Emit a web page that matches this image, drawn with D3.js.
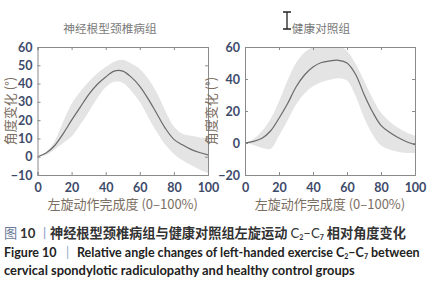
<!DOCTYPE html>
<html>
<head>
<meta charset="utf-8">
<script src="https://cdn.jsdelivr.net/npm/d3@7"></script>
<style>
  body { margin: 0; background: #fff; }
  svg { display: block; }
</style>
</head>
<body>
<div id="chart"></div>
<script>
// progress of the movement, 0-100 %
const progress = [0, 5, 10, 15, 20, 25, 30, 35, 40, 45, 50, 55, 60, 65, 70, 75, 80, 85, 90, 95, 100];

// radiculopathy group (left panel)
const patientMean  = [0, 2, 6, 12.5, 20, 27, 34, 39.5, 43.6, 46.8, 46.8, 43.5, 38.5, 31.5, 23.5, 15.5, 9.5, 6.5, 4, 2.3, 1];
const patientUpper = [0, 2.5, 8.5, 19, 29, 35.5, 41, 45.5, 49, 52, 53, 51, 48, 42.5, 35, 25, 16.5, 12.5, 11.5, 10.7, 10];
const patientLower = [0, 1, 4, 7.5, 11, 17.5, 24.5, 32, 38, 41, 40.5, 36, 30, 21.5, 13.5, 6.5, 1.5, -2, -4.5, -7, -9];

// healthy control group (right panel)
const controlMean  = [0, 1, 3, 7.5, 15.5, 24.5, 35, 42.5, 47.5, 50.3, 51.3, 51.7, 50, 43, 30.5, 19.5, 11, 6.7, 3.4, 0.8, -1];
const controlUpper = [0, 2.5, 7.5, 15, 26, 39, 50, 56.5, 60, 61.5, 61.5, 61, 57.5, 49.5, 39, 28, 19, 13.5, 9.5, 6.5, 4.5];
const controlLower = [0, -1.2, -3, -3.7, 4.5, 14, 24, 31, 35.5, 38.2, 39.5, 40.5, 39, 29.5, 16, 5.5, -1.5, -4, -5.5, -6.3, -6.5];

const xTicks = [0, 20, 40, 60, 80, 100];
const leftYTicks = [-10, 0, 10, 20, 30, 40, 50, 60];
const rightYTicks = [-20, 0, 20, 40, 60];

const width = 436;
const height = 300;

const svg = d3.select('#chart').append('svg')
    .attr('width', width)
    .attr('height', height);

const panels = [
  { id: 'p1', title: '神经根型颈椎病组', mean: patientMean, upper: patientUpper, lower: patientLower,
    yDomain: [-10, 60], yTicks: leftYTicks, left: 37.5, right: 208, labelX: 10, titleX: 110 },
  { id: 'p2', title: '健康对照组', mean: controlMean, upper: controlUpper, lower: controlLower,
    yDomain: [-20, 60], yTicks: rightYTicks, left: 245, right: 415, labelX: 211, titleX: 321 },
];

const plotTop = 47;
const plotBottom = 175;
const tickColor = '#3d4a6a';
const labelColor = '#7b6e62';

panels.forEach(p => {
  const x = d3.scaleLinear([0, 100], [p.left, p.right]);
  const y = d3.scaleLinear(p.yDomain, [plotBottom, plotTop]);

  svg.append('clipPath').attr('id', 'clip-' + p.id)
    .append('rect')
      .attr('x', p.left).attr('y', plotTop)
      .attr('width', p.right - p.left).attr('height', plotBottom - plotTop);

  const g = svg.append('g').attr('clip-path', `url(#clip-${p.id})`);

  const area = d3.area()
      .x((d, i) => x(progress[i]))
      .y0((d, i) => y(p.lower[i]))
      .y1((d, i) => y(p.upper[i]))
      .curve(d3.curveCatmullRom);

  const line = d3.line()
      .x((d, i) => x(progress[i]))
      .y(d => y(d))
      .curve(d3.curveCatmullRom);

  g.append('path')
      .datum(p.mean)
      .attr('d', area)
      .attr('fill', '#e4e4e4');

  g.append('path')
      .datum(p.mean)
      .attr('d', line)
      .attr('fill', 'none')
      .attr('stroke', '#6a6a6a')
      .attr('stroke-width', 1.2);

  // frame with inward ticks on all sides
  const xAxisB = d3.axisBottom(x).tickValues(xTicks).tickSize(-3).tickPadding(8);
  const xAxisT = d3.axisTop(x).tickValues(xTicks).tickSize(-3).tickFormat('');
  const yAxisL = d3.axisLeft(y).tickValues(p.yTicks).tickSize(-3).tickPadding(5);
  const yAxisR = d3.axisRight(y).tickValues(p.yTicks).tickSize(-3).tickFormat('');

  const axes = [
    [xAxisB, `translate(0, ${plotBottom})`],
    [xAxisT, `translate(0, ${plotTop})`],
    [yAxisL, `translate(${p.left}, 0)`],
    [yAxisR, `translate(${p.right}, 0)`],
  ];
  axes.forEach(([ax, tr]) => {
    const a = svg.append('g').attr('transform', tr).call(ax);
    a.select('.domain').attr('stroke', '#8a8a8a').attr('stroke-width', 1);
    a.selectAll('.tick line').attr('stroke', '#8a8a8a');
    a.selectAll('.tick text')
        .attr('fill', tickColor)
        .style('font-family', 'Lato, "Open Sans", sans-serif')
        .style('font-weight', 'bold')
        .style('font-size', '12.5px');
  });

  svg.append('text')
      .attr('x', p.titleX)
      .attr('y', 33)
      .attr('text-anchor', 'middle')
      .attr('fill', '#7a7a7a')
      .style('font-family', '"Noto Sans CJK SC", sans-serif')
      .style('font-size', '11.7px')
      .text(p.title);

  svg.append('text')
      .attr('x', (p.left + p.right) / 2)
      .attr('y', 209)
      .attr('text-anchor', 'middle')
      .attr('fill', labelColor)
      .style('font-family', '"Noto Sans CJK SC", sans-serif')
      .style('font-size', '13px')
      .text('左旋动作完成度 (0–100%)');

  svg.append('text')
      .attr('transform', `translate(${p.labelX + 5}, ${(plotTop + plotBottom) / 2}) rotate(-90)`)
      .attr('text-anchor', 'middle')
      .attr('fill', labelColor)
      .style('font-family', '"Noto Sans CJK SC", sans-serif')
      .style('font-size', '13px')
      .text('角度变化 (°)');
});

// text cursor left over in the screenshot
svg.append('path')
    .attr('d', 'M283,12 H291 M287,12 V29 M283,29 H291')
    .attr('stroke', '#222')
    .attr('stroke-width', 1.3)
    .attr('fill', 'none');

// caption
const cap = svg.append('g').style('font-family', 'Lato, "Noto Sans CJK SC", sans-serif');

const l1 = cap.append('text').attr('x', 4).attr('y', 238)
    .style('font-size', '13.2px').style('font-weight', 'bold').attr('fill', '#333');
l1.append('tspan').attr('fill', '#6b7c99').style('font-weight', 'normal').text('图');
l1.append('tspan').attr('x', 20).text('10');
l1.append('tspan').attr('x', 38).attr('fill', '#8fa5c8').style('font-weight', 'normal').text('丨');
l1.append('tspan').attr('x', 50).style('font-family', '"Noto Sans CJK SC", sans-serif').text('神经根型颈椎病组与健康对照组左旋运动 ');
l1.append('tspan').style('font-weight', 'normal').text('C');
l1.append('tspan').style('font-size', '7px').attr('dy', 2).text('2');
l1.append('tspan').attr('dy', -2).style('font-weight', 'normal').text('–C');
l1.append('tspan').style('font-size', '7px').attr('dy', 2).text('7');
l1.append('tspan').attr('dy', -2).style('font-family', '"Noto Sans CJK SC", sans-serif').text(' 相对角度变化');

const l2 = cap.append('text').attr('x', 4).attr('y', 257)
    .style('font-size', '12.5px').style('font-weight', 'bold').attr('fill', '#222');
l2.append('tspan').text('Figure 10');
l2.append('tspan').attr('x', 66).attr('fill', '#8fa5c8').style('font-weight', 'normal').text('|');
l2.append('tspan').attr('x', 77).text('Relative angle changes of left-handed exercise C');
l2.append('tspan').style('font-size', '7px').attr('dy', 2).text('2');
l2.append('tspan').attr('dy', -2).text('–C');
l2.append('tspan').style('font-size', '7px').attr('dy', 2).text('7');
l2.append('tspan').attr('dy', -2).text(' between');

cap.append('text').attr('x', 4).attr('y', 275)
    .style('font-size', '12.9px').style('font-weight', 'bold').attr('fill', '#222')
    .text('cervical spondylotic radiculopathy and healthy control groups');
</script>
</body>
</html>
